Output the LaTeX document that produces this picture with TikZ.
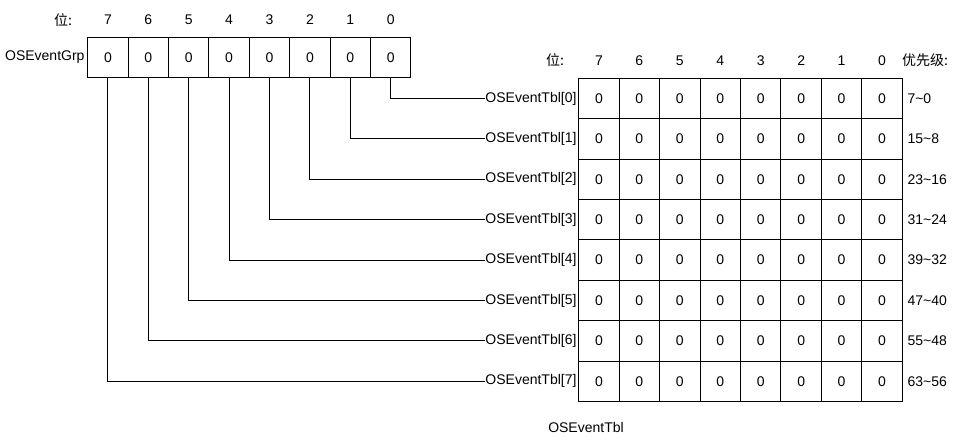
\documentclass[tikz,border=0pt]{standalone}
\usepackage{fontspec}
\setmainfont{Liberation Sans}
\newfontfamily\cjk{Noto Sans CJK SC}

\tikzset{
  cell/.style={draw, minimum width=30.3pt, minimum height=30.3pt, inner sep=0pt, outer sep=0pt},
  lbl/.style={inner sep=0pt, font=\fontsize{10.5}{12}\selectfont},
  wire/.style={line width=0.75pt}
}

\begin{document}
\begin{tikzpicture}[x=0.75pt, y=-0.75pt, line width=0.75pt, font=\fontsize{10.5}{12}\selectfont]
        \useasboundingbox (0,0) rectangle (961,441);

        % OSEventGrp
        \node[lbl] (wei1) at (63,20) {\cjk 位:};
        \node[lbl, anchor=east] (grp) at (85,57.5) {OSEventGrp};
        \foreach \k in {0,...,7} {
            \pgfmathtruncatemacro{\b}{7-\k}
            \node[lbl] (gh\b) at (107.9+40.4*\k,20) {\b};
            \node[cell] (g\b) at (107.9+40.4*\k,57.5) {0};
        }

        % OSEventTbl
        \node[lbl] (wei2) at (555,60.5) {\cjk 位:};
        \node[lbl] (prio) at (925,60.5) {\cjk 优先级:};
        \foreach \k in {0,...,7} {
            \pgfmathtruncatemacro{\b}{7-\k}
            \node[lbl] (th\b) at (598.9+40.45*\k,60.5) {\b};
            \foreach \r in {0,...,7} {
                \node[cell] (t\r-\b) at (598.9+40.45*\k,98.5+40.4*\r) {0};
            }
        }
        \foreach \r/\p in {0/7\textasciitilde0, 1/15\textasciitilde8, 2/23\textasciitilde16,
                           3/31\textasciitilde24, 4/39\textasciitilde32, 5/47\textasciitilde40,
                           6/55\textasciitilde48, 7/63\textasciitilde56} {
            \node[lbl, anchor=east] (l\r) at (577,98.5+40.4*\r) {OSEventTbl[\r]};
            \node[lbl, anchor=west] (p\r) at (907,98.5+40.4*\r) {\p};
            \draw[wire] (g\r.south) |- (l\r.west);
        }
        \node[lbl] (tbl) at (586,427.5) {OSEventTbl};
    \end{tikzpicture}
\end{document}
